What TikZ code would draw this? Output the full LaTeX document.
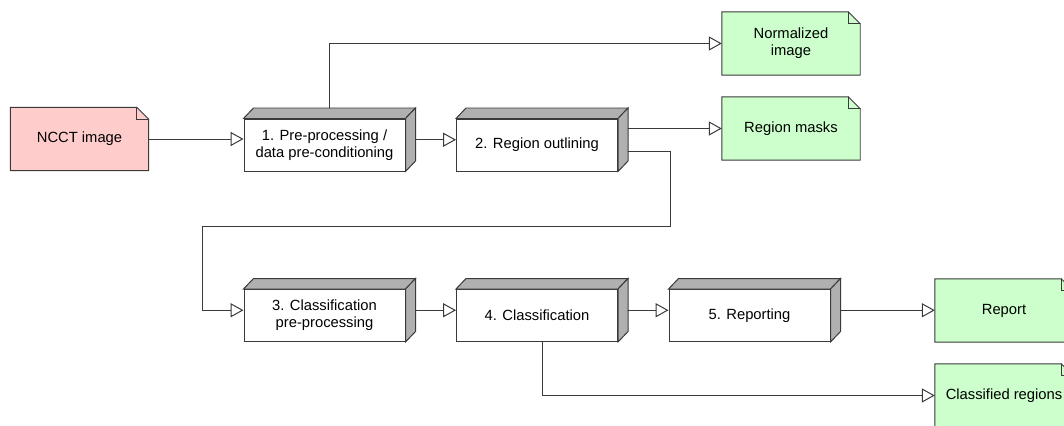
\documentclass[tikz,border=0pt]{standalone}
\usepackage{fontspec}
\setmainfont{Liberation Sans}
\usetikzlibrary{arrows.meta}
\usetikzlibrary{backgrounds}

\definecolor{notepink}{HTML}{FFCCCC}
\definecolor{notegreen}{HTML}{CCFFCC}
\definecolor{sidegray}{HTML}{B0B0B0}
\definecolor{edgegray}{HTML}{3A3A3A}

% top and side faces of a process block
\newcommand{\procdepth}[1]{%
  \draw[face] (#1.north west) -- ++(10,-10.5) -- ([shift={(10,-10.5)}]#1.north east) -- (#1.north east) -- cycle;
  \draw[face] (#1.north east) -- ([shift={(10,-10.5)}]#1.north east) -- ([shift={(10,-10.5)}]#1.south east) -- (#1.south east) -- cycle;
  \coordinate (#1-r) at ([shift={(10,-5.25)}]#1.east);
  \coordinate (#1-t) at ([shift={(5,-10.5)}]#1.north);
}
% note outline with folded corner
\newcommand{\notefold}[2]{%
  \begin{scope}[on background layer]
    \filldraw[fill=#2,edge] (#1.south west) -- (#1.north west) -- ([shift={(-12,0)}]#1.north east) -- ([shift={(0,12)}]#1.north east) -- (#1.south east) -- cycle;
  \end{scope}
  \draw[edge] ([shift={(-12,0)}]#1.north east) |- ([shift={(0,12)}]#1.north east);
}

\begin{document}
\begin{tikzpicture}[x=0.03cm,y=-0.03cm,line cap=round,
  edge/.style={draw=edgegray,line width=0.85pt},
  face/.style={edge,fill=sidegray},
  flow/.style={edge,-{Triangle[open,length=11pt,width=12pt,fill=white]}},
  proc/.style={edge,fill=white,minimum width=4.83cm,minimum height=1.56cm,inner sep=0pt,align=center},
  note/.style={minimum width=4.14cm,minimum height=1.89cm,inner sep=0pt,align=center},
  font=\fontsize{12.6}{14.5}\selectfont]
  \useasboundingbox (0,0) rectangle (1064,426);

  % notes
  \node[note] (ncct) at (79.5,139) {NCCT image};
  \notefold{ncct}{notepink}
  \node[note] (norm) at (791,43.5) {Normalized\\image};
  \notefold{norm}{notegreen}
  \node[note] (masks) at (791,128.5) {Region masks};
  \notefold{masks}{notegreen}
  \node[note] (report) at (1004,310.5) {Report};
  \notefold{report}{notegreen}
  \node[note] (classified) at (1004,395.5) {Classified regions};
  \notefold{classified}{notegreen}

  % process blocks
  \node[proc] (p1) at (324.5,145) {1. Pre-processing /\\data pre-conditioning};
  \procdepth{p1}
  \node[proc] (p2) at (537,145) {2. Region outlining};
  \procdepth{p2}
  \node[proc] (p3) at (324.5,315.5) {3. Classification\\pre-processing};
  \procdepth{p3}
  \node[proc] (p4) at (537,315.5) {4. Classification};
  \procdepth{p4}
  \node[proc] (p5) at (749.5,315.5) {5. Reporting};
  \procdepth{p5}

  % connectors
  \draw[flow] (ncct.east) -- (ncct.east -| p1.west);
  \draw[flow] (p1-t) |- (norm.west);
  \draw[flow] (p1-r) -- (p1-r -| p2.west);
  \draw[flow] (masks.west -| p2-r) -- (masks.west);
  \draw[flow] (p2.east) ++(10,6) -- ++(42,0) |- (202,226) |- (p3.west |- p3-r);
  \draw[flow] (p3-r) -- (p3-r -| p4.west);
  \draw[flow] (p4-r) -- (p4-r -| p5.west);
  \draw[flow] (p5-r) -- (p5-r -| report.west);
  \draw[flow] (p4.south) ++(5,0) |- (classified.west);
\end{tikzpicture}
\end{document}
